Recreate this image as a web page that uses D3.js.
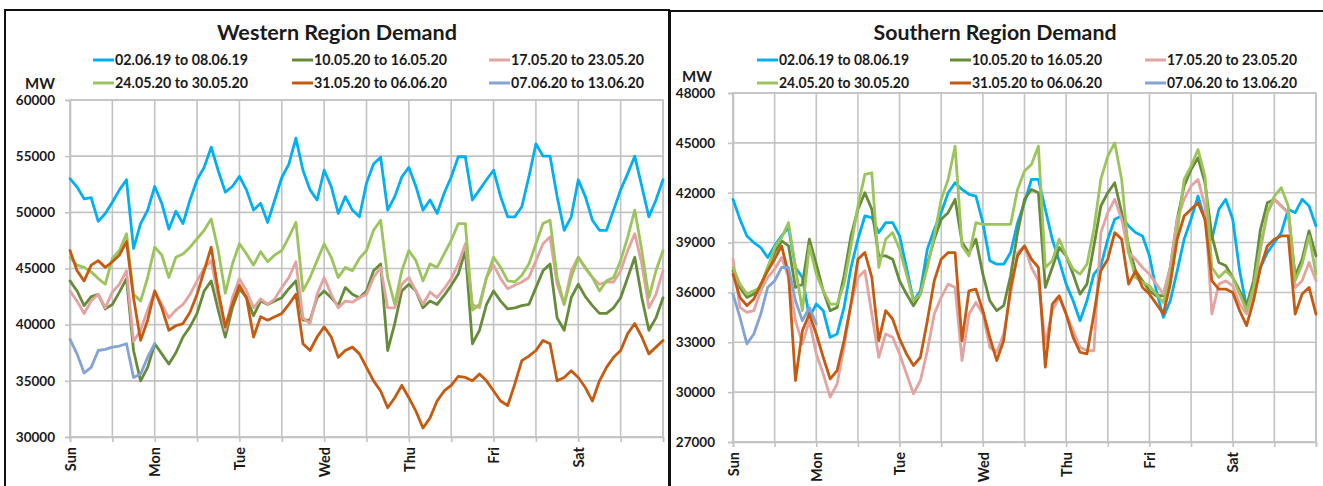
<!DOCTYPE html>
<html><head><meta charset="utf-8">
<script src="https://cdn.jsdelivr.net/npm/d3@7/dist/d3.min.js"></script>
<style>
body{margin:0;background:#fff}
svg{display:block}
text{font-family:Lato,"Open Sans","Liberation Sans",Arial,sans-serif;font-weight:bold;fill:#1a1a1a}
</style>
</head><body>
<svg id="c" width="1323" height="486"></svg>
<script>
// ---------------- DATA ----------------
const days = ["Sun","Mon","Tue","Wed","Thu","Fri","Sat"];
const hours = d3.range(0, 169, 2); // 2-hourly readings, Sun 00:00 .. next Sun 00:00
const seriesNames = ["02.06.19 to 08.06.19","10.05.20 to 16.05.20","17.05.20 to 23.05.20",
                     "24.05.20 to 30.05.20","31.05.20 to 06.06.20","07.06.20 to 13.06.20"];
const westTicks = [30000,35000,40000,45000,50000,55000,60000];
const southTicks = [27000,30000,33000,36000,39000,42000,45000,48000];

// Western Region (MW)
const west_020619 = [53000,52250,51200,51300,49200,49900,50900,52000,52900,46800,49000,50200,52300,
 50800,48500,50100,49000,51100,52900,54000,55800,53700,51800,52300,53200,
 52000,50200,50800,49100,51100,53100,54300,56600,53750,52000,51100,53750,
 52300,49900,51400,50200,49600,52600,54300,54900,50200,51400,53150,54000,
 52300,50200,51100,49900,51700,53150,54950,54950,51100,52000,52900,53750,
 51400,49600,49600,50500,53150,56100,55000,55000,51400,48400,49600,52900,
 51400,49300,48400,48400,50200,52000,53450,55000,52300,49600,51100,52900];
const west_100520 = [43900,43000,41700,42500,42700,41400,41800,42900,44100,37700,35000,36200,38300,
 37400,36500,37500,38900,39800,41000,43000,43900,41300,38900,41500,43200,
 42400,40800,42100,41800,42100,42400,43200,43900,40400,40400,42400,43000,
 42400,41700,43300,42700,42400,43000,44800,45400,37700,40100,43000,43600,
 43000,41500,42100,41800,42600,43500,44500,46600,38300,39500,41800,43000,
 42100,41400,41500,41700,41800,43300,44800,45400,40600,39500,42400,43600,
 42500,41700,41000,41000,41500,42400,44200,46000,42400,39500,40600,42400];
const west_170520 = [43000,42100,41000,42100,42700,41500,42900,43600,44800,38500,39500,41300,43000,
 41800,40600,41300,41800,42700,43900,45000,45700,42400,39500,42400,44100,
 43000,41500,42300,41800,42300,43300,44200,45600,40600,40100,42700,44200,
 42700,41500,42100,42000,42400,42700,44200,45100,41500,41500,43600,44200,
 43000,41800,42900,42400,43200,44100,45400,47200,41800,41500,44200,45300,
 44100,43200,43500,43800,44200,45700,47200,47800,43600,41800,44800,46000,
 45000,44200,43600,43800,43800,44800,46600,48100,45400,41500,42700,44800];
const west_240520 = [46000,45300,45100,44700,44100,43600,45900,46600,48100,42700,42100,44200,46900,
 46200,44200,46000,46300,46900,47650,48400,49400,46600,42800,45400,47200,
 46300,45300,46500,45600,46200,46600,47800,49100,43000,44200,45700,47200,
 46000,44200,45100,44800,45900,46600,48400,49300,44200,41800,44800,46600,
 45700,43900,45400,45100,46300,47500,49000,49000,41300,41800,44200,46000,
 45100,43900,43800,44400,45400,47200,49000,49300,44200,41800,44200,46000,
 45100,44200,43000,43900,44200,45700,47800,50200,46600,42400,44800,46600];
const west_310520 = [46600,44800,43900,45300,45700,45100,45600,46200,47400,42400,38600,40400,43000,
 41500,39500,39900,40100,41100,42700,44800,46900,43000,39800,41800,43500,
 42400,38900,40700,40400,40700,41000,41800,42700,38300,37700,38900,39800,
 38900,37100,37700,38000,37400,36200,35000,34100,32600,33500,34600,33500,
 32300,30800,31700,33200,34100,34600,35400,35300,35000,35600,35000,34100,
 33200,32800,34700,36800,37200,37700,38600,38300,35000,35300,35900,35300,
 34400,33200,35000,36200,37100,37700,39200,40100,38900,37400,38000,38600];
const west_070620 = [38700,37400,35700,36200,37700,37800,38000,38100,38300,35300,35600,37100,38300];

// Southern Region (MW)
const south_020619 = [41600,40400,39400,39000,38700,38100,38800,39400,39900,37500,36900,34500,35300,
 34900,33300,33500,35100,37500,39200,40600,40500,39600,40200,40200,39400,
 37500,35500,36100,38600,39800,40800,42000,42600,42200,41900,41800,40200,
 37900,37700,37700,38400,40200,41400,42800,42800,41000,39200,37900,36500,
 35500,34300,35500,37100,37600,39200,40400,40600,40000,39600,39400,38200,
 36100,34500,35500,37300,39200,40400,41800,40400,39200,41000,41600,40400,
 37300,35100,35900,37500,38400,39000,39600,41000,40800,41600,41200,40000];
const south_100520 = [37300,36300,35700,35900,36400,37500,38400,39100,38800,36300,36500,39200,37700,
 36100,34900,35100,37000,39400,41000,42000,41000,38200,38200,38000,36700,
 35900,35200,35900,37700,39200,40400,40800,41600,39000,38400,39200,37100,
 35500,34900,35200,37000,39600,41600,42200,42000,36300,37500,38700,38200,
 37100,35900,36500,38800,41200,42000,42600,40800,38800,37300,36700,36100,
 35800,35800,37500,40400,42400,43400,44100,42600,39400,37800,37600,36900,
 36100,35200,36700,39800,41400,41600,41200,40800,37000,38000,39700,38200];
const south_170520 = [38000,35100,34800,34900,36100,36900,37400,38100,36900,34300,32900,34300,32300,
 31100,29700,30500,32700,35300,36900,37300,34700,32100,33500,33300,32300,
 31100,29900,30700,32500,34700,35700,36500,36300,31900,34700,35400,34700,
 32700,32400,33500,35900,38400,38800,37500,36700,32900,34900,35700,34700,
 33700,32700,32500,32500,39600,40800,41600,40400,38400,38000,37500,37100,
 36500,35900,37500,40400,41600,42400,42800,41200,34700,36500,36700,36400,
 35300,34700,35900,38600,40800,41600,41200,40800,36300,36700,37800,36700];
const south_240520 = [37500,36500,35900,36100,36300,37500,38700,39300,40200,37500,34900,38800,37100,
 36100,35300,35300,36500,38800,41200,43100,43200,37500,39200,39600,38600,
 37100,35500,35900,37500,39400,41600,42800,44800,38800,38200,40200,40100,
 40100,40100,40100,40100,42200,43300,43700,44800,37500,37900,39200,38200,
 37400,37100,37700,39800,42800,44200,45000,42800,38400,36900,36600,36400,
 35900,35400,36900,39600,42800,43600,44600,43000,37500,36900,37300,36900,
 35900,34900,36300,38800,40800,41800,42300,41200,36700,37700,39400,37100];
const south_310520 = [37100,35700,35200,35600,36500,37300,38000,38800,37100,30700,33700,34700,33500,
 32100,30800,31300,33100,35300,38000,38400,36900,33100,34900,34400,33200,
 32300,31600,32100,34300,36700,38000,38400,38400,33100,36100,36200,34900,
 33300,31900,33100,36300,38200,38800,38000,37500,31500,35300,35800,34700,
 33300,32400,32300,34700,37300,38000,39600,39200,36500,37300,36300,35900,
 35300,34700,36500,39200,40600,41000,41400,40400,36700,36200,36200,36000,
 34900,34000,35500,37500,38800,39200,39400,39400,34700,35900,36300,34700];
const south_070620 = [35900,34500,32900,33500,34700,36300,36700,37500,37500,35500,34300,35100,34100];

// ---------------- STYLE / LAYOUT ----------------
const seriesColors = ["#00b0f0","#668c3a","#e3a3a0","#9cc45c","#c55a11","#83a3d3"];
const gridColor = "#c3c3c3";

const svg = d3.select("#c");

function drawPanel(cfg, seriesData, ticks, title) {
  const g = svg.append("g");
  // panel frame
  g.append("rect").attr("x", cfg.fx).attr("y", cfg.fy).attr("width", cfg.fw).attr("height", 600)
    .attr("fill", "#fff").attr("stroke", "#111").attr("stroke-width", 2);

  const x = d3.scaleLinear().domain([0, 168]).range([cfg.px0, cfg.px1]);
  const y = d3.scaleLinear().domain([ticks[0], ticks[ticks.length - 1]]).range([cfg.py1, cfg.py0]);

  // grid
  g.append("g").selectAll("line").data(ticks).join("line")
    .attr("x1", cfg.px0).attr("x2", cfg.px1).attr("y1", d => y(d)).attr("y2", d => y(d))
    .attr("stroke", gridColor).attr("stroke-width", 1.6);
  g.append("g").selectAll("line").data(d3.range(0, 169, 12)).join("line")
    .attr("x1", d => x(d)).attr("x2", d => x(d)).attr("y1", cfg.py0).attr("y2", cfg.py1)
    .attr("stroke", gridColor).attr("stroke-width", 1.6);

  // axes
  const ya = g.append("g").attr("transform", `translate(${cfg.px0},0)`)
    .call(d3.axisLeft(y).tickValues(ticks).tickSize(5).tickPadding(cfg.ypad).tickFormat(d3.format("d")));
  ya.selectAll("text").attr("font-size", 13.5).attr("fill", "#1a1a1a");
  const xa = g.append("g").attr("transform", `translate(0,${cfg.py1})`)
    .call(d3.axisBottom(x).tickValues(d3.range(0, 169, 12)).tickSize(5)
      .tickFormat(d => (d % 24 === 0 && d < 168) ? days[d / 24] : ""));
  xa.selectAll("text").attr("font-size", 14.5).attr("fill", "#1a1a1a")
    .attr("transform", "rotate(-90)").attr("text-anchor", "end")
    .attr("x", -10).attr("y", 0).attr("dy", "0.36em");
  [ya, xa].forEach(a => {
    a.selectAll("line").attr("stroke", gridColor).attr("stroke-width", 1.6);
    a.select(".domain").attr("stroke", gridColor).attr("stroke-width", 1.6);
  });
  // plot border
  g.append("rect").attr("x", cfg.px0).attr("y", cfg.py0)
    .attr("width", cfg.px1 - cfg.px0).attr("height", cfg.py1 - cfg.py0)
    .attr("fill", "none").attr("stroke", gridColor).attr("stroke-width", 1.6);

  // series
  const line = d3.line().defined(d => d[1] != null).x(d => x(d[0])).y(d => y(d[1]));
  seriesData.forEach((vals, i) => {
    const pts = hours.map((h, k) => [h, k < vals.length ? vals[k] : null]);
    g.append("path").attr("d", line(pts)).attr("fill", "none")
      .attr("stroke", seriesColors[i]).attr("stroke-width", 2.8)
      .attr("stroke-linejoin", "round").attr("stroke-linecap", "round");
  });

  // title
  g.append("text").attr("x", cfg.tx).attr("y", 40).attr("text-anchor", "middle")
    .attr("font-size", 21).attr("textLength", cfg.tw).attr("lengthAdjust", "spacingAndGlyphs")
    .text(title);
  // MW
  g.append("text").attr("x", cfg.mwx).attr("y", cfg.mwy).attr("font-size", 15).text("MW");
  // legend
  seriesNames.forEach((name, i) => {
    const lx = cfg.legX[i % 3], ly = cfg.legY[Math.floor(i / 3)];
    g.append("line").attr("x1", lx).attr("x2", lx + 21).attr("y1", ly).attr("y2", ly)
      .attr("stroke", seriesColors[i]).attr("stroke-width", 3);
    g.append("text").attr("x", lx + 22).attr("y", ly + 5).attr("font-size", 14.5)
      .attr("textLength", cfg.lw).attr("lengthAdjust", "spacingAndGlyphs").text(name);
  });
}

drawPanel({fx:5, fy:10, fw:664, px0:70, px1:663, py0:100, py1:437, ypad:10,
           tx:337, tw:240, mwx:25, mwy:89, lw:133, legX:[93,292,489], legY:[60,83]},
  [west_020619, west_100520, west_170520, west_240520, west_310520, west_070620],
  westTicks, "Western Region Demand");
drawPanel({fx:670, fy:11, fw:700, px0:733, px1:1316, py0:93, py1:442, ypad:13,
           tx:995, tw:243, mwx:682, mwy:82, lw:130, legX:[757,950,1145], legY:[60,83]},
  [south_020619, south_100520, south_170520, south_240520, south_310520, south_070620],
  southTicks, "Southern Region Demand");
</script>
</body></html>
